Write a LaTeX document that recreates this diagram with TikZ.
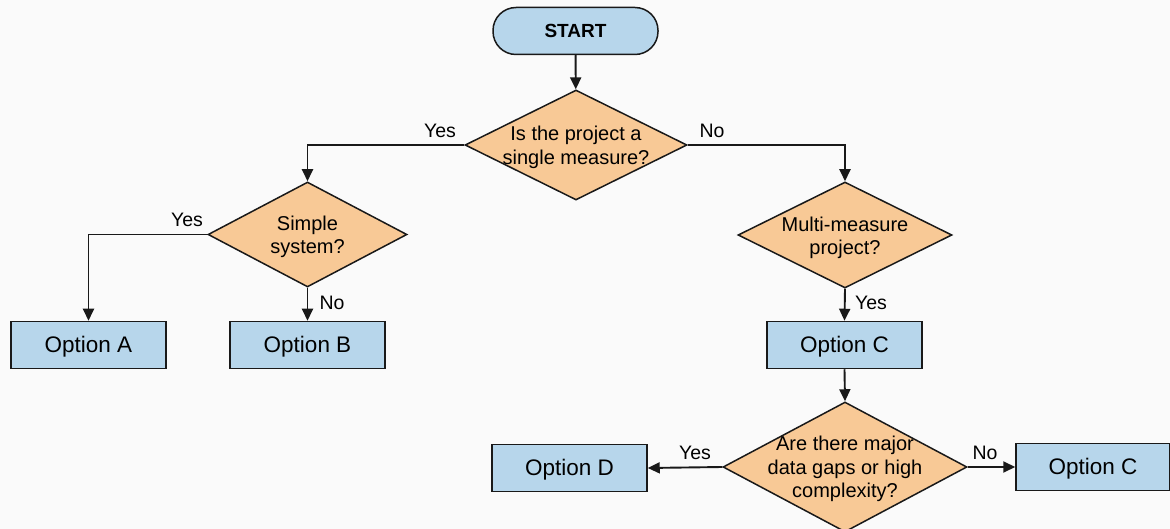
\documentclass[tikz,border=0pt]{standalone}
\usepackage{fontspec}
\setmainfont{Liberation Sans}
\usetikzlibrary{shapes.geometric,arrows.meta}
\definecolor{boxblue}{RGB}{183,214,235}
\definecolor{decorange}{RGB}{248,201,150}
\definecolor{lineC}{RGB}{25,25,25}
\definecolor{bgC}{RGB}{250,250,250}
\begin{document}
\begin{tikzpicture}[x=1pt,y=-1pt,
  box/.style={draw=lineC, fill=boxblue, line width=1.5pt, minimum width=155pt, minimum height=47pt, inner sep=0pt, text height=16.5pt, text depth=1pt, font=\fontsize{22.5}{26}\selectfont},
  startbox/.style={box, rounded corners=23pt, minimum width=165pt, minimum height=47pt, text height=14pt, text depth=0pt, font=\fontsize{19}{23}\selectfont\bfseries},
  dec/.style={diamond, draw=lineC, fill=decorange, line width=1.5pt, inner sep=0pt},
  dtext/.style={align=center, font=\fontsize{20}{23.5}\selectfont, inner sep=0pt},
  lbl/.style={font=\fontsize{19.5}{22}\selectfont, inner sep=0pt},
  arr/.style={draw=lineC, line width=1.9pt, -{Triangle[length=12pt,width=11pt]}}]
\fill[bgC] (0,0) rectangle (1170,529);
\useasboundingbox (0,0) rectangle (1170,529);

\node[startbox] (start) at (575.5,31) {START};
\node[dec, minimum width=222pt, minimum height=110pt] (q1) at (576,145) {};
\node[dtext] (t1) at ([yshift=-2.5pt]q1.center) {Is the project a\\single measure?};
\node[dec, minimum width=199pt, minimum height=105pt] (q2) at (307.5,234.5) {};
\node[dtext] (t2) at ([yshift=-2.5pt]q2.center) {Simple\\system?};
\node[dec, minimum width=214pt, minimum height=106pt] (q3) at (845,235) {};
\node[dtext] (t3) at ([yshift=-3pt]q3.center) {Multi-measure\\project?};
\node[box] (oa) at (88.5,345) {Option A};
\node[box] (ob) at (307.5,345) {Option B};
\node[box] (oc) at (844.5,345) {Option C};
\node[dec, minimum width=244pt, minimum height=130pt] (q4) at (845,467) {};
\node[dtext] (t4) at ([yshift=-2pt]q4.center) {Are there major\\data gaps or high\\complexity?};
\node[box] (od) at (569.5,468) {Option D};
\node[box, minimum width=154pt] (oc2) at (1093,467) {Option C};

\draw[arr] (start) -- (q1);
\draw[arr] (q1.west) -| (q2.north);
\draw[arr] (q1.east) -| (q3.north);
\draw[arr] (q2.west) -| (oa.north);
\draw[arr] (q2.south) -- (ob.north);
\draw[arr] (q3.south) -- (oc.north);
\draw[arr] (oc.south) -- (q4.north);
\draw[arr] (q4.west) -- (od.east);
\draw[arr] (q4.east) -- (oc2.west);

\node[lbl] (l1) at (440,131) {Yes};
\node[lbl] (l2) at (712,131) {No};
\node[lbl] (l3) at (187,220) {Yes};
\node[lbl] (l4) at (332,303) {No};
\node[lbl] (l5) at (871,303) {Yes};
\node[lbl] (l6) at (695,453) {Yes};
\node[lbl] (l7) at (985,453) {No};
\end{tikzpicture}
\end{document}
